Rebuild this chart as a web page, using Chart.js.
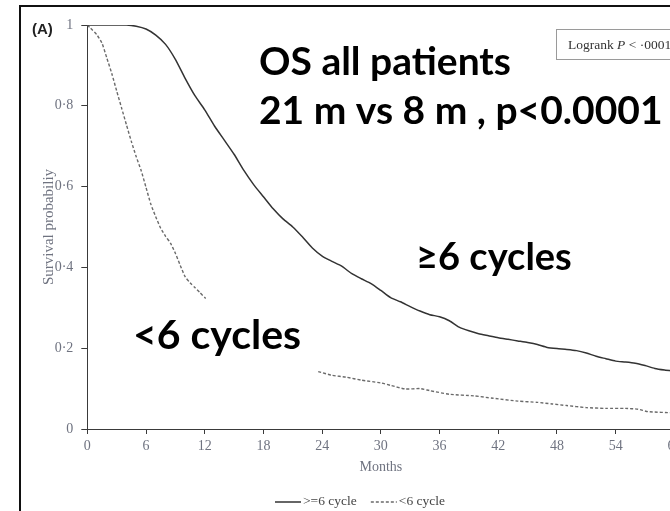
<!DOCTYPE html>
<html>
<head>
<meta charset="utf-8">
<script src="https://cdn.jsdelivr.net/npm/chart.js@4/dist/chart.umd.min.js"></script>
<style>
  html, body { margin: 0; padding: 0; background: #fff; overflow: hidden; width: 670px; height: 511px; }
  #wrap { position: relative; width: 670px; height: 511px; overflow: hidden; }
  #frame { position: absolute; left: 19px; top: 5px; width: 720px; height: 560px;
           border-left: 2px solid #111; border-top: 2px solid #111; box-sizing: border-box; pointer-events: none; }
  canvas { position: absolute; left: 0; top: 0; }
</style>
</head>
<body>
<div id="wrap">
  <canvas id="km" width="720" height="511"></canvas>
  <div id="frame"></div>
</div>
<script>
// Overall survival by number of chemotherapy cycles (Kaplan-Meier estimates)
const monthTicks = [0, 6, 12, 18, 24, 30, 36, 42, 48, 54, 60];
const survTicks = [0, 0.2, 0.4, 0.6, 0.8, 1];
const survTickLabels = ['0', '0·2', '0·4', '0·6', '0·8', '1'];
const seriesNames = ['>=6 cycle', '<6 cycle'];

// >=6 cycles
const moreMonths = [0, 2, 4, 5, 6, 7, 8, 9, 10, 11, 12, 13, 14, 15, 16, 17, 18, 19, 20, 21, 22, 23, 24, 25, 26, 27, 28, 29, 30,
  31, 32, 33, 34, 35, 36, 37, 38, 39, 40, 41, 42, 43, 44, 45, 46, 47, 48, 49, 50, 51, 52, 53, 54, 55, 56, 57, 58, 59, 60];
const moreSurv = [1.0, 1.0, 1.0, 0.997, 0.99, 0.975, 0.952, 0.915, 0.868, 0.825, 0.79, 0.75, 0.715, 0.68, 0.64, 0.605, 0.575,
  0.545, 0.52, 0.50, 0.475, 0.448, 0.428, 0.415, 0.403, 0.385, 0.372, 0.36, 0.343, 0.325, 0.315, 0.303, 0.292, 0.283, 0.278,
  0.268, 0.252, 0.243, 0.236, 0.231, 0.226, 0.222, 0.218, 0.214, 0.209, 0.202, 0.199, 0.197, 0.194, 0.188, 0.18, 0.174,
  0.168, 0.166, 0.163, 0.157, 0.15, 0.146, 0.143];

// <6 cycles (no curve drawn between about 12 and 24 months)
const fewerMonths = [0, 0.3, 1, 1.5, 2, 2.5, 3, 3.5, 4, 4.5, 5, 5.5, 6, 6.5, 7, 7.5, 8, 8.5, 9, 9.5, 10, 10.5, 11, 11.5, 12.1,
  18, 23.6, 25, 26.5, 28, 30, 31, 32.5, 34, 35, 37, 39.5, 41.5, 44, 46, 47.5, 49, 51, 53, 55, 56.3, 57.3, 60];
const fewerSurv = [1.0, 0.993, 0.975, 0.955, 0.918, 0.88, 0.837, 0.795, 0.753, 0.712, 0.674, 0.64, 0.598, 0.556, 0.525,
  0.497, 0.477, 0.46, 0.435, 0.405, 0.377, 0.362, 0.35, 0.338, 0.323,
  null, 0.142, 0.133, 0.128, 0.121, 0.114, 0.108, 0.099, 0.1, 0.095, 0.086, 0.082, 0.076, 0.069, 0.066, 0.062, 0.058,
  0.053, 0.051, 0.051, 0.049, 0.043, 0.04];

const toPoints = (xs, ys) => xs.map((x, i) => ({ x: x, y: ys[i] }));

const serif = '"Liberation Serif", "DejaVu Serif", serif';
const bigFont = 'Lato, "Open Sans", sans-serif';
const tickColor = '#6f7380';
const axisColor = '#3a3a3a';

// Legend row, annotations and the logrank box
const decorPlugin = {
  id: 'decor',
  afterDraw(chart) {
    const ctx = chart.ctx;
    ctx.save();

    // panel letter
    ctx.fillStyle = '#222';
    ctx.font = 'bold 15px "Liberation Sans", Arial, sans-serif';
    ctx.textBaseline = 'middle';
    ctx.textAlign = 'left';
    ctx.fillText('(A)', 32, 30);

    // logrank box
    ctx.strokeStyle = '#9a9a9a';
    ctx.lineWidth = 1;
    ctx.strokeRect(556.5, 29.5, 170, 30);
    ctx.fillStyle = '#333';
    ctx.textBaseline = 'alphabetic';
    ctx.font = '13.5px ' + serif;
    let x = 568;
    ctx.fillText('Logrank ', x, 49);
    x += ctx.measureText('Logrank ').width;
    ctx.font = 'italic 13.5px ' + serif;
    ctx.fillText('P', x, 49);
    x += ctx.measureText('P').width;
    ctx.font = '13.5px ' + serif;
    ctx.fillText(' < ·0001', x, 49);

    // large annotations
    ctx.fillStyle = '#000';
    ctx.font = 'bold 39px ' + bigFont;
    ctx.fillText('OS all patients', 259, 75);
    ctx.fillText('21 m vs 8 m , p<0.0001', 259, 124);
    ctx.font = 'bold 38px ' + bigFont;
    ctx.fillText('≥6 cycles', 416, 270);
    ctx.font = 'bold 41px ' + bigFont;
    ctx.fillText('<6 cycles', 133, 349);

    // legend
    const ly = 501;
    ctx.font = '13.5px ' + serif;
    ctx.fillStyle = '#444';
    ctx.textBaseline = 'middle';
    let lx = 275;
    chart.data.datasets.forEach((ds) => {
      ctx.strokeStyle = ds.borderColor;
      ctx.lineWidth = ds.borderWidth;
      ctx.setLineDash(ds.borderDash || []);
      ctx.beginPath();
      ctx.moveTo(lx, ly + 1);
      ctx.lineTo(lx + 26, ly + 1);
      ctx.stroke();
      ctx.setLineDash([]);
      ctx.fillText(ds.label, lx + 28, ly);
      lx += 28 + ctx.measureText(ds.label).width + 14;
    });
    ctx.restore();
  }
};

new Chart(document.getElementById('km'), {
  type: 'line',
  data: {
    datasets: [
      { label: seriesNames[0], data: toPoints(moreMonths, moreSurv), borderColor: '#333333', borderWidth: 1.5,
        pointRadius: 0, tension: 0.2, spanGaps: false, fill: false },
      { label: seriesNames[1], data: toPoints(fewerMonths, fewerSurv), borderColor: '#6a6a6a', borderWidth: 1.4,
        borderDash: [3, 2], pointRadius: 0, tension: 0.2, spanGaps: false, fill: false }
    ]
  },
  options: {
    responsive: false,
    animation: false,
    layout: { padding: { left: 0, top: 25, right: 45.6, bottom: 0 } },
    plugins: { legend: { display: false }, tooltip: { enabled: false } },
    scales: {
      x: {
        type: 'linear', min: 0, max: 60,
        afterFit(scale) { scale.height = 82; },
        afterBuildTicks(scale) { scale.ticks = monthTicks.map(v => ({ value: v })); },
        grid: { display: true, drawOnChartArea: false, drawTicks: true, tickLength: 5, color: axisColor },
        border: { display: true, color: axisColor, width: 1 },
        ticks: { color: tickColor, font: { family: serif, size: 14 }, padding: 4, maxRotation: 0 },
        title: { display: true, text: 'Months', color: tickColor, font: { family: serif, size: 14 }, padding: { top: 0, bottom: 35 } }
      },
      y: {
        type: 'linear', min: 0, max: 1,
        afterFit(scale) { scale.width = 87.3; },
        afterBuildTicks(scale) { scale.ticks = survTicks.map(v => ({ value: v })); },
        grid: { display: true, drawOnChartArea: false, drawTicks: true, tickLength: 6, color: axisColor },
        border: { display: true, color: axisColor, width: 1 },
        ticks: { color: tickColor, font: { family: serif, size: 14 }, padding: 8,
                  callback: (v) => survTickLabels[survTicks.indexOf(Math.round(v * 10) / 10)] },
        title: { display: true, text: 'Survival probabiliy', color: tickColor, font: { family: serif, size: 15 }, padding: { top: 40, bottom: 0 } }
      }
    }
  },
  plugins: [decorPlugin]
});
</script>
</body>
</html>
